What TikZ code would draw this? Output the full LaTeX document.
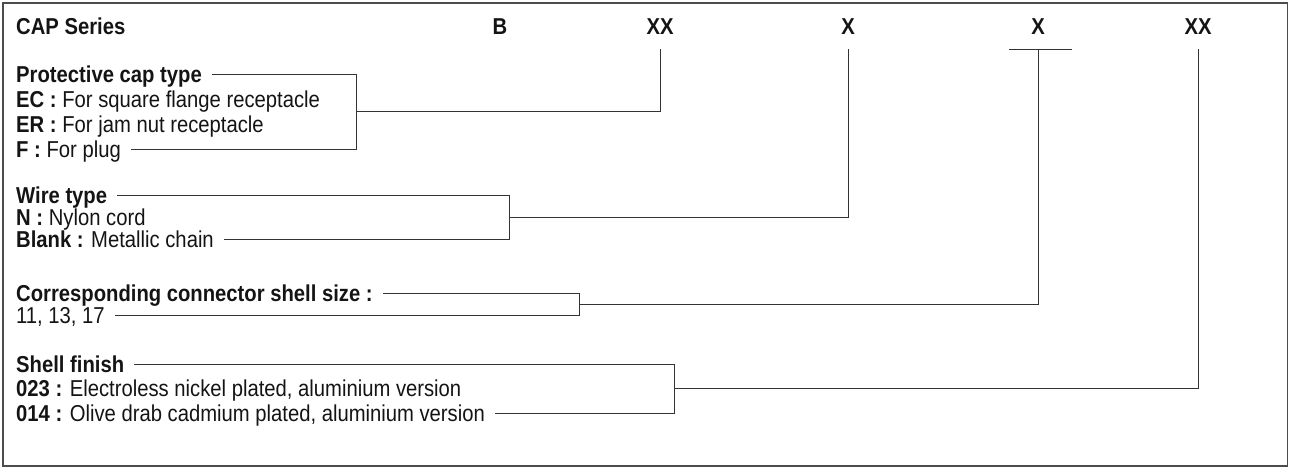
\documentclass[tikz,border=0pt]{standalone}
\usepackage{fontspec}
\setmainfont{Liberation Sans}[FakeStretch=0.88]
\begin{document}
\begin{tikzpicture}[x=1pt,y=-1pt,
  txt/.style={inner sep=0pt, anchor=west, text height=16.5pt, text depth=0pt,
    font=\fontsize{23pt}{25pt}\selectfont, text=black!92},
  hdr/.style={inner sep=0pt, text height=16.5pt, text depth=0pt,
    font=\fontsize{23pt}{25pt}\selectfont\bfseries, text=black!92},
  ln/.style={draw=black!80, line width=0.9pt},
  frame/.style={draw=black!70, line width=1.3pt}]
\useasboundingbox (0,0) rectangle (1289,467);
\draw[frame] (3,3) rectangle (1287.5,466);

% header
\node[hdr, anchor=west] (cap) at (16,26) {CAP Series};
\node[hdr] (hb) at (500,26) {B};
\node[hdr] (hxx1) at (660,26) {XX};
\node[hdr] (hx1) at (848,26) {X};
\node[hdr] (hx2) at (1038,26) {X};
\node[hdr] (hxx2) at (1198,26) {XX};
\coordinate (t1) at (660,49);
\coordinate (t2) at (848,49);
\coordinate (t3) at (1038,49);
\coordinate (t4) at (1198,49);
\coordinate (barl) at (1009,49);
\coordinate (barr) at (1072,49);
\draw[ln] (barl) -- (barr);

% protective cap type
\node[txt] (p1) at (16,74) {\textbf{Protective cap type}};
\node[txt] (p2) at (16,99) {\textbf{EC :} For square flange receptacle};
\node[txt] (p3) at (16,124) {\textbf{ER :} For jam nut receptacle};
\node[txt] (p4) at (16,149) {\textbf{F :} For plug};
\coordinate (b1t) at (356,74);
\coordinate (b1b) at (356,149);
\coordinate (b1m) at (356,111.5);
\draw[ln] ([xshift=10pt]p1.east) -- (b1t) -- (b1b) -- ([xshift=10pt]p4.east);
\draw[ln] (b1m) -| (t1);

% wire type
\node[txt] (w1) at (16,195) {\textbf{Wire type}};
\node[txt] (w2) at (16,217) {\textbf{N :} Nylon cord};
\node[txt] (w3) at (16,239) {\textbf{Blank :} Metallic chain};
\coordinate (b2t) at (509,195);
\coordinate (b2b) at (509,239);
\coordinate (b2m) at (509,217);
\draw[ln] ([xshift=10pt]w1.east) -- (b2t) -- (b2b) -- ([xshift=10pt]w3.east);
\draw[ln] (b2m) -| (t2);

% shell size
\node[txt] (c1) at (16,293) {\textbf{Corresponding connector shell size :}};
\node[txt] (c2) at (16,315) {11, 13, 17};
\coordinate (b3t) at (579,293);
\coordinate (b3b) at (579,315);
\coordinate (b3m) at (579,304);
\draw[ln] ([xshift=10pt]c1.east) -- (b3t) -- (b3b) -- ([xshift=10pt]c2.east);
\draw[ln] (b3m) -| (t3);

% shell finish
\node[txt] (s1) at (16,364) {\textbf{Shell finish}};
\node[txt] (s2) at (16,388.5) {\textbf{023 :} Electroless nickel plated, aluminium version};
\node[txt] (s3) at (16,413) {\textbf{014 :} Olive drab cadmium plated, aluminium version};
\coordinate (b4t) at (674,364);
\coordinate (b4b) at (674,413);
\coordinate (b4m) at (674,388.5);
\draw[ln] ([xshift=10pt]s1.east) -- (b4t) -- (b4b) -- ([xshift=10pt]s3.east);
\draw[ln] (b4m) -| (t4);
\end{tikzpicture}
\end{document}
